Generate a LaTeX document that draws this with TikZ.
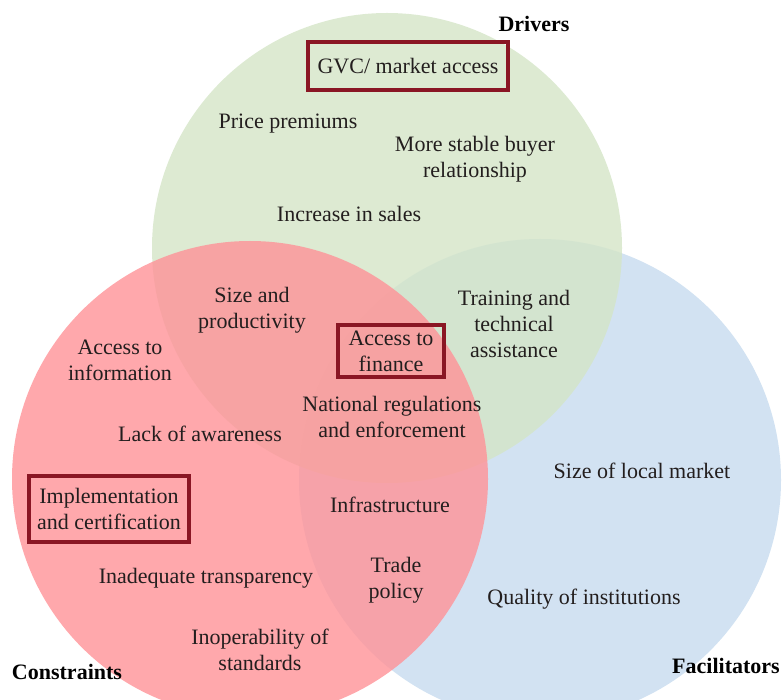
\documentclass[tikz,border=0pt]{standalone}
\usepackage{fontspec}
\setmainfont{Liberation Serif}
\usepackage{tikz}
\usetikzlibrary{positioning}
\definecolor{drvgreen}{RGB}{212,229,199}
\definecolor{cnsred}{RGB}{255,146,151}
\definecolor{facblue}{RGB}{210,226,242}
\definecolor{boxred}{RGB}{138,22,36}
\definecolor{txt}{RGB}{35,30,30}
\tikzset{
  setcirc/.style={draw=none, fill opacity=0.8},
  lbl/.style={
    text=txt,
    align=center,
    font=\fontsize{11}{13}\selectfont,
    inner sep=0pt},
  keybox/.style={
    lbl,
    draw=boxred, line width=2pt,
    inner xsep=4pt, inner ysep=3pt},
  ttl/.style={
    text=black,
    font=\fontsize{11}{13}\selectfont\bfseries,
    inner sep=0pt},
}

\begin{document}
\begin{tikzpicture}[x=0.5pt,y=-0.5pt]
  \useasboundingbox (0,0) rectangle (782,700);
  % the three sets
  \fill[setcirc, facblue, fill opacity=1] (540,480) circle[radius=241];
  \fill[setcirc, drvgreen] (387,248) circle[radius=235];
  \fill[setcirc, cnsred] (250,479) circle[radius=238];

  % titles
  \node[ttl] (drivers) at (534,24) {Drivers};
  \node[ttl] (constraints) at (67,672) {Constraints};
  \node[ttl] (facilitators) at (726,666) {Facilitators};

  % drivers
  \node[keybox, minimum width=100pt, minimum height=24pt] (gvc) at (408,66) {GVC/ market access};
  \node[lbl] (premium) at (288,124) {Price premiums};
  \node[lbl] (buyer) at (475,159) {More stable buyer\\relationship};
  \node[lbl] (sales) at (349,214) {Increase in sales};

  % overlaps
  \node[lbl] (size) at (252,310) {Size and\\productivity};
  \node[lbl] (training) at (514,324) {Training and\\technical\\assistance};
  \node[keybox, minimum width=53pt, minimum height=25pt] (finance) at (391,351) {Access to\\finance};
  \node[lbl] (regul) at (392,417) {National regulations\\and enforcement};
  \node[lbl] (infra) at (390,505) {Infrastructure};
  \node[lbl] (trade) at (396,580) {Trade\\policy};

  % constraints
  \node[lbl] (info) at (120,360) {Access to\\information};
  \node[lbl] (aware) at (200,434) {Lack of awareness};
  \node[keybox, minimum width=79pt, minimum height=33pt] (impl) at (109,509) {Implementation\\and certification};
  \node[lbl] (transp) at (206,578) {Inadequate transparency};
  \node[lbl] (inop) at (260,650) {Inoperability of\\standards};

  % facilitators
  \node[lbl] (local) at (642,471) {Size of local market};
  \node[lbl] (instit) at (584,599) {Quality of institutions};
\end{tikzpicture}
\end{document}
